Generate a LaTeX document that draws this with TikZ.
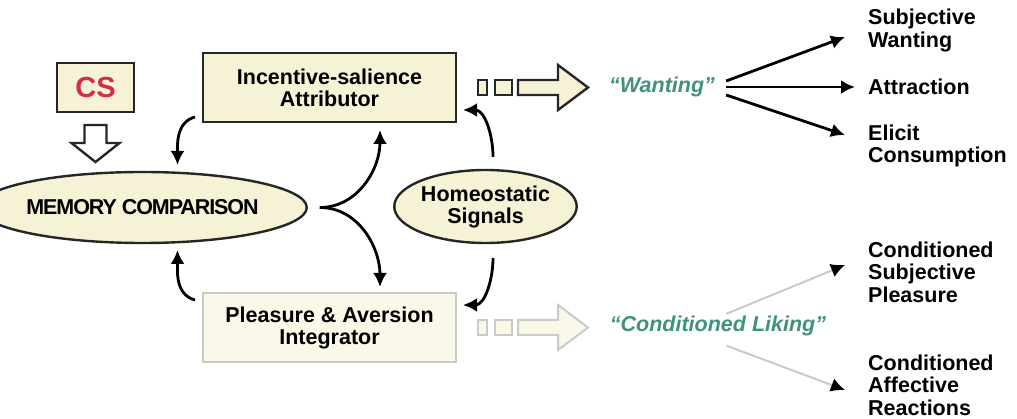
\documentclass[tikz,border=0pt]{standalone}
\usepackage{fontspec}
\setmainfont{Liberation Sans}
\newfontfamily\condfont[LetterSpace=-5]{Liberation Sans}
\usepackage{tikz}
\usetikzlibrary{positioning,shapes,arrows.meta,calc}
\definecolor{cream}{RGB}{245,242,214}
\definecolor{palecream}{RGB}{250,248,232}
\definecolor{csred}{RGB}{212,44,78}
\definecolor{wantgreen}{RGB}{64,146,124}
\definecolor{fadegray}{RGB}{202,202,198}
\tikzstyle{box0} = [rectangle, draw=black!85, line width=2.4pt, fill=cream, outer sep=0pt, %
   minimum width=253pt, minimum height=69pt, align=center, font=\bfseries\fontsize{21.5}{22}\selectfont]
\tikzstyle{box1} = [box0, draw=fadegray, line width=1.6pt, fill=palecream]
\tikzstyle{ellipse0} = [ellipse, draw=black!85, line width=2.4pt, fill=cream, outer sep=0pt, inner sep=0pt, %
   minimum width=269pt, minimum height=71pt, align=center, font=\bfseries\fontsize{21.5}{22}\selectfont]
\tikzstyle{csbox} = [rectangle, draw=black!85, line width=2.4pt, fill=cream, outer sep=0pt, %
   minimum width=77pt, minimum height=49pt, text=csred, font=\bfseries\fontsize{29}{30}\selectfont]
\tikzstyle{wanttext} = [inner sep=0pt, text=wantgreen, font=\bfseries\itshape\fontsize{21.5}{22}\selectfont]
\tikzstyle{outtext} = [anchor=west, align=left, inner sep=0pt, font=\bfseries\fontsize{21.5}{22.5}\selectfont]
\tikzstyle{blockarr} = [draw=black!85, line width=2.4pt, fill=cream, line join=miter]
\tikzstyle{fadearr} = [draw=fadegray, line width=2pt, fill=palecream, line join=miter]
\tikzstyle{hollow} = [draw=black!85, line width=2.4pt, fill=white, line join=miter]
\tikzstyle{line} = [draw, line width=2.8pt, -{Latex[length=14pt,width=14pt]}]
\tikzstyle{fadeline} = [draw=fadegray, line width=2pt, -{Latex[length=14pt,width=14pt,color=black]}]

\begin{document}
\begin{tikzpicture}[x=1pt,y=1pt]
   \useasboundingbox (0,0) rectangle (1017,-419);

   % Left side %%%%%%%%%%%%%%%%%%%%%%%%%%%%%%%%%%%%%%%%%%%%%%%%%%%%%%%%
      \node[csbox] (CS) at (95.5,-87.5) {CS};
      \node[ellipse0] (Memory) at (142.5,-207.5) {\condfont MEMORY COMPARISON};

   % Centre boxes %%%%%%%%%%%%%%%%%%%%%%%%%%%%%%%%%%%%%%%%%%%%%%%%%%%%%
      \node[box0] (Incentive) at (329.5,-87.5) {Incentive-salience\\Attributor};
      \node[box1, below=171pt of Incentive] (Pleasure) {Pleasure \& Aversion\\Integrator};
      \node[ellipse0, minimum width=175pt, minimum height=73pt] (Homeo) at (485.5,-206.5) {Homeostatic\\Signals};

   % Outputs %%%%%%%%%%%%%%%%%%%%%%%%%%%%%%%%%%%%%%%%%%%%%%%%%%%%%%%%%%
      \node[wanttext] (Wanting) at (662,-87) {“Wanting”};
      \node[wanttext] (Liking) at (718,-326) {“Conditioned Liking”};

      \node[outtext] (SubjWant) at (868,-30.5) {Subjective\\Wanting};
      \node[outtext] (Attraction) at (868,-87) {Attraction};
      \node[outtext] (Elicit) at (868,-146) {Elicit\\Consumption};
      \node[outtext] (CondPleasure) at (868,-272) {Conditioned\\Subjective\\Pleasure};
      \node[outtext] (CondReact) at (868,-385) {Conditioned\\Affective\\Reactions};

   % Block arrows
      \coordinate (csarr) at ([yshift=-13pt]CS.south);
      \draw[hollow] (csarr) ++(-11,0) -- ++(22,0) -- ++(0,-18) -- ++(13,0) -- ++(-24,-19) -- ++(-24,19) -- ++(13,0) -- cycle;

      \coordinate (wantarr) at ([xshift=62pt]Incentive.east);
      \draw[blockarr] (wantarr) ++(-40,7.5) rectangle ++(9,-15);
      \draw[blockarr] (wantarr) ++(-23,7.5) rectangle ++(17,-15);
      \draw[blockarr] (wantarr) ++(0,7.5) -- ++(40,0) -- ++(0,15) -- ++(30,-22.5) -- ++(-30,-22.5) -- ++(0,15) -- ++(-40,0) -- cycle;

      \coordinate (likearr) at ([xshift=62pt]Pleasure.east);
      \draw[fadearr] (likearr) ++(-40,7.5) rectangle ++(9,-15);
      \draw[fadearr] (likearr) ++(-23,7.5) rectangle ++(17,-15);
      \draw[fadearr] (likearr) ++(0,7.5) -- ++(40,0) -- ++(0,15) -- ++(30,-22.5) -- ++(-30,-22.5) -- ++(0,15) -- ++(-40,0) -- cycle;

      % Draw edges
      % Loop round the comparison
      \path [line] ([xshift=-8pt,yshift=5pt]Incentive.south west) to[out=195,in=90] ([xshift=35pt,yshift=7pt]Memory.north);
      \path [line] ([xshift=-8pt,yshift=-7pt]Pleasure.north west) to[out=165,in=-90] ([xshift=35pt,yshift=-7pt]Memory.south);
      \path [line] ([xshift=13pt]Memory.east) to[out=0,in=-90] ([xshift=50.5pt,yshift=-8pt]Incentive.south);
      \path [line] ([xshift=13pt]Memory.east) to[out=0,in=90] ([xshift=50.5pt,yshift=6pt]Pleasure.north);
      \path [line] ([xshift=7.5pt,yshift=13pt]Homeo.north) to[out=90,in=0] ([xshift=7pt,yshift=-22.5pt]Incentive.east);
      \path [line] ([xshift=7.5pt,yshift=-15pt]Homeo.south) to[out=-90,in=0] ([xshift=7pt,yshift=22.5pt]Pleasure.east);

      % Fan out
      \path [line] ([xshift=11pt,yshift=6pt]Wanting.east) -- ([xshift=-23pt,yshift=-6.5pt]SubjWant.west);
      \path [line] ([xshift=11pt]Wanting.east) -- ([xshift=-13pt]Attraction.west);
      \path [line] ([xshift=11pt,yshift=-8pt]Wanting.east) -- ([xshift=-23pt,yshift=11pt]Elicit.west);
      \path [fadeline] ([xshift=8.5pt,yshift=2pt]Liking.north) -- ([xshift=-23pt,yshift=7pt]CondPleasure.west);
      \path [fadeline] ([xshift=8.5pt,yshift=-9.5pt]Liking.south) -- ([xshift=-23pt,yshift=-5pt]CondReact.west);
\end{tikzpicture}
\end{document}
